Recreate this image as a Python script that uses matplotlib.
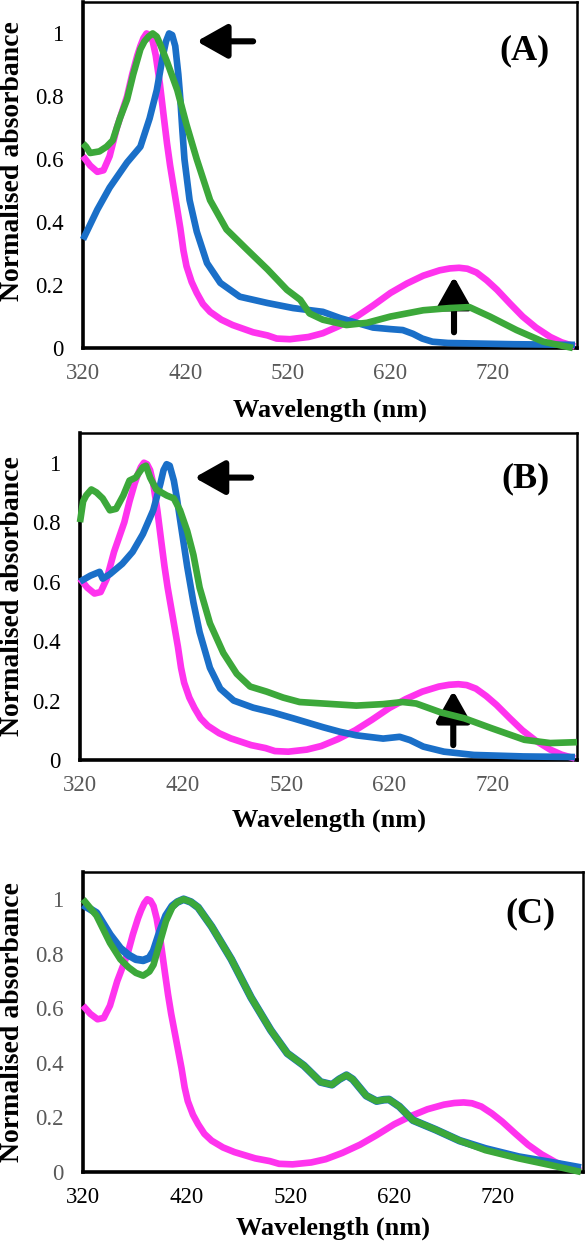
import matplotlib
matplotlib.use("Agg")
import matplotlib.pyplot as plt

plt.rcParams['font.family'] = ['Liberation Serif', 'DejaVu Serif']

# ---------------- data ----------------
# reference compound (magenta), same in all panels
ref_wl = [320, 327, 334, 340, 346, 353, 358, 363, 368, 373, 376, 379, 382, 385, 388, 391,
          395, 399, 402, 405, 408, 412, 415, 418, 421, 426, 431, 437, 444, 455, 466, 486,
          500, 509, 522, 540, 554, 570, 587, 603, 620, 636, 652, 668, 678, 687, 695, 704,
          714, 724, 737, 749, 762, 776, 787, 800]
ref_abs = [0.61, 0.58, 0.56, 0.565, 0.61, 0.70, 0.75, 0.80, 0.87, 0.93, 0.96, 0.985, 1.0, 0.995, 0.975, 0.93,
           0.84, 0.73, 0.65, 0.58, 0.52, 0.44, 0.38, 0.31, 0.26, 0.21, 0.175, 0.14, 0.115, 0.09, 0.073, 0.05,
           0.04, 0.03, 0.028, 0.035, 0.047, 0.07, 0.10, 0.135, 0.175, 0.205, 0.23, 0.247, 0.253, 0.255, 0.252, 0.24,
           0.215, 0.185, 0.14, 0.10, 0.065, 0.035, 0.018, 0.005]

# Panel A
a_blue_wl = [320, 334, 346, 363, 376, 385, 392, 398, 401, 404, 407, 410, 413, 415, 417, 419,
             424, 431, 441, 454, 473, 500, 525, 554, 571, 587, 603, 620, 632, 642, 651, 661,
             676, 691, 740, 800]
a_blue = [0.345, 0.44, 0.51, 0.59, 0.64, 0.73, 0.82, 0.93, 0.975, 1.0, 0.995, 0.96, 0.87, 0.79, 0.69, 0.60,
          0.47, 0.37, 0.27, 0.207, 0.163, 0.143, 0.127, 0.115, 0.095, 0.08, 0.065, 0.06, 0.057, 0.045, 0.03, 0.02,
          0.016, 0.015, 0.012, 0.01]
a_green_wl = [320, 323, 327, 336, 343, 349, 356, 363, 369, 376, 380, 384, 388, 392, 396, 402,
              412, 421, 431, 444, 460, 480, 500, 519, 532, 541, 554, 577, 597, 620, 652, 678,
              697, 717, 743, 769, 798]
a_green = [0.65, 0.64, 0.62, 0.625, 0.64, 0.66, 0.73, 0.79, 0.87, 0.95, 0.975, 0.99, 1.0, 0.99, 0.96, 0.91,
           0.82, 0.71, 0.60, 0.47, 0.377, 0.313, 0.25, 0.185, 0.153, 0.11, 0.09, 0.073, 0.08, 0.10, 0.12, 0.127,
           0.13, 0.10, 0.057, 0.02, 0.0]

# Panel B
b_blue_wl = [320, 330, 339, 342, 349, 361, 371, 381, 391, 398, 401, 404, 407, 411, 414, 417,
             424, 430, 436, 446, 456, 469, 488, 507, 527, 556, 572, 588, 614, 630, 640, 653,
             673, 702, 750, 800]
b_blue = [0.60, 0.62, 0.633, 0.61, 0.625, 0.66, 0.70, 0.76, 0.84, 0.93, 0.975, 0.995, 0.99, 0.94, 0.88, 0.81,
          0.65, 0.53, 0.43, 0.31, 0.24, 0.20, 0.176, 0.16, 0.14, 0.11, 0.095, 0.083, 0.072, 0.078, 0.067, 0.045,
          0.028, 0.017, 0.012, 0.01]
b_green_wl = [320, 323, 326, 331, 336, 342, 349, 355, 362, 368, 374, 378, 381, 384, 388, 394,
              404, 411, 417, 424, 430, 436, 446, 459, 472, 485, 501, 517, 533, 556, 588, 614,
              633, 646, 670, 693, 719, 751, 776, 802]
b_green = [0.80, 0.87, 0.89, 0.91, 0.90, 0.88, 0.84, 0.845, 0.89, 0.94, 0.95, 0.97, 0.985, 0.99, 0.95, 0.91,
           0.89, 0.88, 0.84, 0.77, 0.69, 0.58, 0.46, 0.36, 0.29, 0.247, 0.23, 0.21, 0.195, 0.19, 0.183, 0.188,
           0.195, 0.19, 0.16, 0.14, 0.107, 0.068, 0.057, 0.06]

# Panel C
c_blue_wl = [320, 333, 346, 356, 364, 371, 378, 384, 388, 394, 400, 406, 411, 417, 424, 431,
             444, 463, 482, 501, 517, 533, 549, 560, 567, 574, 580, 593, 603, 610, 615, 625,
             638, 660, 683, 708, 740, 771, 800]
c_blue = [0.98, 0.95, 0.87, 0.82, 0.795, 0.78, 0.776, 0.785, 0.81, 0.88, 0.94, 0.975, 0.99, 1.0, 0.99, 0.97,
          0.90, 0.78, 0.64, 0.52, 0.435, 0.39, 0.33, 0.32, 0.34, 0.355, 0.34, 0.28, 0.26, 0.265, 0.266, 0.24,
          0.19, 0.155, 0.115, 0.085, 0.055, 0.035, 0.015]
c_green_wl = [320, 333, 346, 356, 364, 371, 378, 384, 388, 394, 400, 406, 411, 417, 424, 431,
              444, 463, 482, 501, 517, 533, 549, 560, 567, 574, 580, 593, 603, 610, 615, 625,
              638, 660, 683, 708, 740, 771, 800]
c_green = [1.0, 0.94, 0.84, 0.78, 0.75, 0.73, 0.72, 0.735, 0.76, 0.84, 0.92, 0.97, 0.99, 1.0, 0.99, 0.97,
           0.90, 0.78, 0.64, 0.52, 0.435, 0.39, 0.33, 0.32, 0.34, 0.355, 0.34, 0.28, 0.26, 0.265, 0.266, 0.24,
           0.19, 0.155, 0.115, 0.08, 0.05, 0.025, 0.0]

x_ticks = [320, 420, 520, 620, 720]
y_ticks = [0, 0.2, 0.4, 0.6, 0.8, 1.0]
y_tick_labels = ['0', '0.2', '0.4', '0.6', '0.8', '1']
panel_labels = ['(A)', '(B)', '(C)']

MAG = '#FF33EE'
BLUE = '#1A6FC8'
GREEN = '#3CA83A'
GRAY = '#595959'

fig = plt.figure(figsize=(5.88, 12.43), dpi=100)
H = 1243.0
W = 588.0

def axes_px(l, r, t, b):
    return fig.add_axes([l / W, 1 - b / H, (r - l) / W, (b - t) / H])

axA = axes_px(83, 577, 2, 348)
axB = axes_px(80, 577, 433, 760)
axC = axes_px(83, 583, 872, 1172)

panels = [
    (axA, a_blue_wl, a_blue, a_green_wl, a_green, 'k', GRAY, -0.145, -0.117, 0.54),
    (axB, b_blue_wl, b_blue, b_green_wl, b_green, 'k', GRAY, -0.15, -0.111, 0.5),
    (axC, c_blue_wl, c_blue, c_green_wl, c_green, GRAY, 'k', -0.15, -0.116, 0.5),
]

lw = 4.8
for i, (ax, bwl, bv, gwl, gv, ycol, xcol, xlab_y, ylab_x, ylab_y) in enumerate(panels):
    blw = lw + 0.8 if i == 2 else lw
    ax.plot(ref_wl, ref_abs, color=MAG, lw=lw, solid_capstyle='butt', solid_joinstyle='round',
            clip_on=False, zorder=3)
    ax.plot(bwl, bv, color=BLUE, lw=blw, solid_capstyle='butt', solid_joinstyle='round',
            clip_on=False, zorder=4)
    ax.plot(gwl, gv, color=GREEN, lw=lw, solid_capstyle='butt', solid_joinstyle='round',
            clip_on=False, zorder=5)
    ax.set_xlim(320, 802)
    ax.set_ylim(0, 1.1)
    ax.set_xticks(x_ticks)
    ax.set_xticklabels([str(t) for t in x_ticks])
    ax.set_yticks(y_ticks)
    ax.set_yticklabels(y_tick_labels)
    ax.tick_params(axis='both', length=0, labelsize=16.5)
    ax.tick_params(axis='x', pad=11, labelcolor=xcol)
    ax.tick_params(axis='y', pad=14, labelcolor=ycol)
    for s in ax.spines.values():
        s.set_linewidth(1.8)
        s.set_color('black')
    ax.spines['left'].set_linewidth(2.6)
    ax.spines['bottom'].set_linewidth(2.6)
    ax.set_xlabel('Wavelength (nm)', fontsize=19, fontweight='bold', va='top')
    ax.xaxis.set_label_coords(0.5, xlab_y)
    ax.set_ylabel('Normalised absorbance', fontsize=20, fontweight='bold')
    ax.yaxis.set_label_coords(ylab_x, ylab_y)
    ax.text(0.945, 0.86, panel_labels[i], transform=ax.transAxes, fontsize=26,
            fontweight='bold', ha='right', va='center')

# arrows (annotations)
arrow_style = dict(arrowstyle='-|>,head_length=0.8,head_width=0.45', lw=4.4, color='black',
                   shrinkA=0, shrinkB=0, mutation_scale=23)
axA.annotate('', xy=(431, 0.975), xytext=(486, 0.975), arrowprops=arrow_style)
axA.annotate('', xy=(682, 0.227), xytext=(682, 0.05), arrowprops=arrow_style)
axB.annotate('', xy=(431, 0.95), xytext=(486, 0.95), arrowprops=arrow_style)
axB.annotate('', xy=(682, 0.233), xytext=(682, 0.05), arrowprops=arrow_style)

fig.savefig('out.png', dpi=100)
